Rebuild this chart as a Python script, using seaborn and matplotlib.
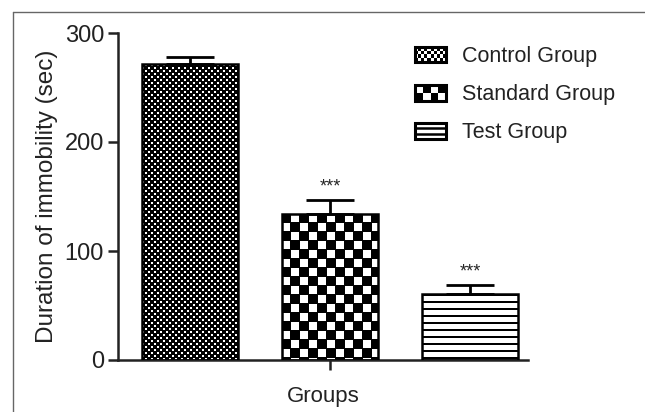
import numpy as np
import matplotlib
matplotlib.use("Agg")
import matplotlib.pyplot as plt
from matplotlib.lines import Line2D
from matplotlib.patches import Rectangle
from matplotlib.collections import PolyCollection
from matplotlib.legend_handler import HandlerBase
import seaborn as sns

# Forced swim test: mean immobility with upper SEM
groups = ["Control Group", "Standard Group", "Test Group"]
immobility = [272, 134, 60.5]
sem = [6, 13, 8.5]
significance = ["", "***", "***"]
textures = ["fine", "coarse", "stripes"]

sns.set_style("ticks")
plt.rcParams["font.family"] = ["Liberation Sans", "DejaVu Sans"]

W, H = 645, 412
fig = plt.figure(figsize=(W / 100, H / 100), dpi=100)
ax = fig.add_axes([118 / W, 1 - 360 / H, 410 / W, 327 / H])

sns.barplot(x=groups, y=immobility, order=groups, color="white",
            edgecolor="black", linewidth=1.8, width=0.686,
            errorbar=None, ax=ax, zorder=3)
for p in ax.patches:
    p.set_facecolor("none")

xs = np.arange(len(groups))
ax.errorbar(xs, immobility, yerr=[np.zeros(len(sem)), sem], fmt="none",
            ecolor="black", elinewidth=2, capsize=17.5, capthick=2,
            zorder=4)

ax.set_xlim(-0.514, 2.414)
ax.set_ylim(0, 300)


def pattern_cells(kind, px0, py0, px1, py1):
    """Black cells of a fill pattern, in whole display pixels."""
    x0, y0 = np.floor(px0), np.floor(py0)
    x1, y1 = np.ceil(px1), np.ceil(py1)
    cells = []
    if kind == "stripes":
        y = y1
        while y > y0:
            cells.append([(x0, y - 2), (x1, y - 2), (x1, y), (x0, y)])
            y -= 7
        return cells
    # checkerboard; black squares slightly larger than the grid step
    s, b = (3, 4) if kind == "fine" else (9, 10)
    nx = int((x1 - x0) // s) + 1
    ny = int((y1 - y0) // s) + 1
    for i in range(ny):
        for j in range(nx):
            if (i + j) % 2 == 0:
                cx, cy = x0 + j * s, y1 - i * s - b
                cells.append([(cx, cy), (cx + b, cy), (cx + b, cy + b), (cx, cy + b)])
    return cells


# Fill each bar with its printed pattern
inv = ax.transData.inverted()
for p, kind in zip(ax.patches, textures):
    x0, y0, w, h = p.get_x(), p.get_y(), p.get_width(), p.get_height()
    (px0, py0), (px1, py1) = ax.transData.transform([(x0, y0), (x0 + w, y0 + h)])
    cells = [inv.transform(np.array(c)) for c in pattern_cells(kind, px0, py0, px1, py1)]
    coll = PolyCollection(cells, facecolors="black", edgecolors="none",
                          antialiaseds=False, zorder=2)
    ax.add_collection(coll, autolim=False)
    coll.set_clip_path(p)

ax.set_xlim(-0.514, 2.414)
ax.set_ylim(0, 300)

for x, y, e, s in zip(xs, immobility, sem, significance):
    if s:
        ax.annotate(s, (x, y + e), xytext=(0, 3), textcoords="offset points",
                    ha="center", va="bottom", fontsize=13)

ax.set_yticks([0, 100, 200, 300])
ax.set_xticks([1])
ax.set_xticklabels([""])
ax.tick_params(direction="out", length=7, width=1.8, labelsize=17, pad=3,
               color="#222222", labelcolor="#222222")
for side in ("left", "bottom"):
    ax.spines[side].set_linewidth(1.8)
    ax.spines[side].set_color("#222222")
sns.despine(ax=ax)
ax.set_ylabel("Duration of immobility (sec)", fontsize=17.5, labelpad=5,
              color="#222222")
ax.set_xlabel("Groups", fontsize=16, labelpad=9, color="#222222")


class TextureHandler(HandlerBase):
    def __init__(self, kind):
        super().__init__()
        self.kind = kind

    def create_artists(self, legend, orig_handle, xdescent, ydescent,
                       width, height, fontsize, trans):
        x0, y0 = -xdescent, -ydescent
        arts = [Rectangle((x0, y0), width, height, facecolor="white",
                          edgecolor="none", transform=trans)]
        if self.kind == "stripes":
            for k in (1, 2):
                yy = y0 + height * k / 3
                arts.append(Line2D([x0, x0 + width], [yy, yy], color="black",
                                   lw=1.8, transform=trans))
        else:
            nx, ny = (10, 4) if self.kind == "fine" else (4, 2)
            cw, ch = width / nx, height / ny
            for i in range(ny):
                for j in range(nx):
                    if (i + j) % 2 == 0:
                        arts.append(Rectangle((x0 + j * cw, y0 + i * ch), cw, ch,
                                              facecolor="black", edgecolor="none",
                                              transform=trans))
        arts.append(Rectangle((x0, y0), width, height, facecolor="none",
                              edgecolor="black", lw=2.2, transform=trans))
        return arts


handles = [Rectangle((0, 0), 1, 1) for _ in groups]
leg = ax.legend(handles, groups,
                handler_map={h: TextureHandler(k) for h, k in zip(handles, textures)},
                loc="upper left", bbox_to_anchor=(415 / W, 1 - 46 / H),
                bbox_transform=fig.transFigure, frameon=False, fontsize=15.5,
                handlelength=1.45, handleheight=0.75, handletextpad=0.75,
                labelspacing=0.8, borderpad=0, borderaxespad=0)
for t in leg.get_texts():
    t.set_color("#222222")

# Outer frame on the left and top of the figure
fig.add_artist(Line2D([13 / W, 13 / W], [0, 1 - 12 / H], transform=fig.transFigure,
                      color="#666666", lw=1))
fig.add_artist(Line2D([13 / W, 1], [1 - 12 / H, 1 - 12 / H], transform=fig.transFigure,
                      color="#666666", lw=1))

fig.savefig("out.png", dpi=100)
